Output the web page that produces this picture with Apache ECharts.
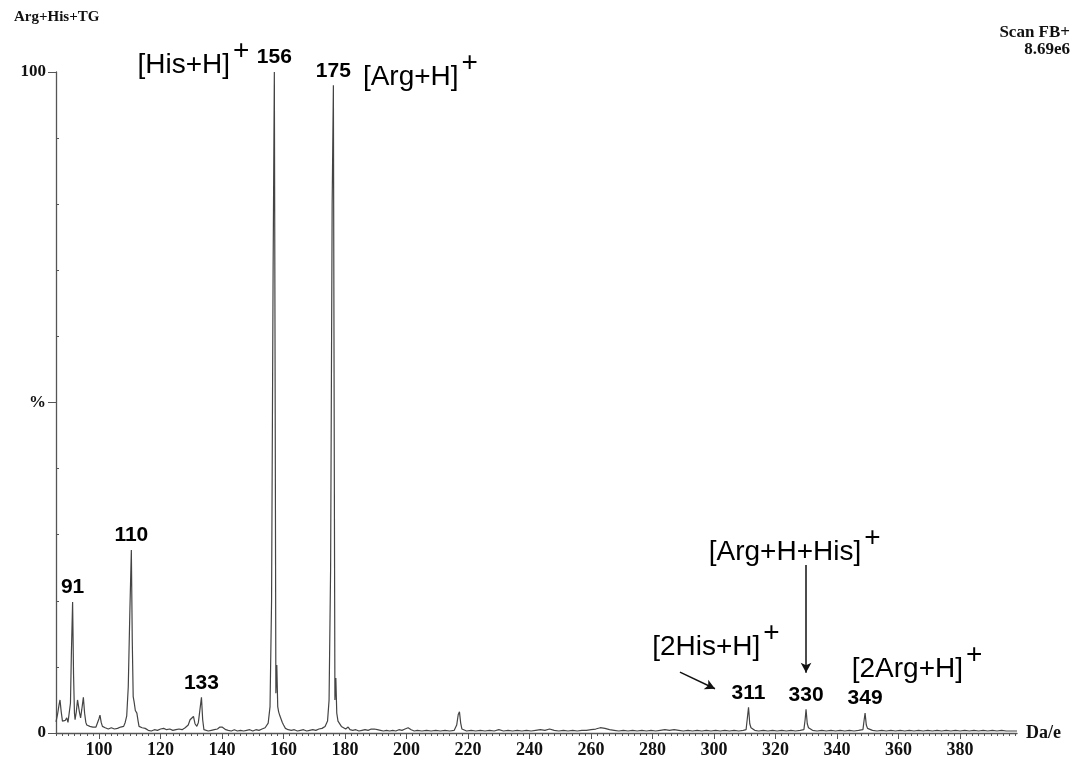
<!DOCTYPE html>
<html><head><meta charset="utf-8">
<script src="https://cdn.jsdelivr.net/npm/echarts@6/dist/echarts.min.js"></script>
<style>html,body{margin:0;padding:0;background:#fff}#c{width:1082px;height:771px}</style>
</head><body><div id="c"></div><script>
// ---- data ----
const xTickValues = [100,120,140,160,180,200,220,240,260,280,300,320,340,360,380];
const xMinorTicks = [86,88,90,92,94,96,98,100,102,104,106,108,110,112,114,116,118,120,122,124,126,128,130,132,134,136,138,140,142,144,146,148,150,152,154,156,158,160,162,164,166,168,170,172,174,176,178,180,182,184,186,188,190,192,194,196,198,200,202,204,206,208,210,212,214,216,218,220,222,224,226,228,230,232,234,236,238,240,242,244,246,248,250,252,254,256,258,260,262,264,266,268,270,272,274,276,278,280,282,284,286,288,290,292,294,296,298,300,302,304,306,308,310,312,314,316,318,320,322,324,326,328,330,332,334,336,338,340,342,344,346,348,350,352,354,356,358,360,362,364,366,368,370,372,374,376,378,380,382,384,386,388,390,392,394,396,398];
const yTickValues = [0,50,100];
const yTickText = ['0','%','100'];
const yMinorTicks = [10,20,30,40,60,70,80,90];

const trace = [
[86.0,1.7],[86.5,2.8],[87.0,4.3],[87.3,5.0],[87.7,3.2],[88.1,1.8],[88.6,1.5],[89.0,1.9],[89.5,2.3],[89.9,1.6],[90.3,1.5],[90.7,4.5],[91.0,12],[91.4,19.8],[91.7,9],[92.0,3.0],[92.2,2.0],[92.6,3.2],[93.0,5.0],[93.3,5.3],[93.6,3.2],[94.0,2.3],[94.4,3.6],[94.9,5.4],[95.3,3.0],[95.7,1.6],[96.0,1.2],[96.5,1.3],[97.0,1.0],[97.5,1.1],[98.0,0.9],[98.5,1.0],[99.0,0.9],[99.5,1.2],[100.0,2.2],[100.3,2.7],[100.7,1.6],[101.1,1.0],[101.6,1.1],[102.0,0.8],[102.5,0.9],[103.0,0.6],[103.5,0.5],[104.0,0.8],[104.5,0.5],[105.0,0.6],[105.5,0.4],[106.0,0.7],[106.5,0.6],[107.0,0.9],[107.5,0.8],[108.0,1.0],[108.5,1.6],[109.0,2.6],[109.5,7],[110.0,18],[110.5,27.7],[110.8,14],[111.1,5.5],[111.4,4.7],[111.8,3.4],[112.3,3.0],[112.7,1.8],[113.0,1.0],[113.5,0.7],[114.0,0.8],[114.5,0.5],[115.0,0.7],[115.5,0.6],[116.0,0.4],[117.0,0.3],[118.0,0.5],[119.0,0.4],[120.0,0.6],[121.0,0.7],[122.0,0.5],[123.0,0.6],[124.0,0.4],[125.0,0.5],[126.0,0.6],[127.0,0.5],[128.0,0.8],[129.0,1.2],[129.6,2.0],[130.2,2.2],[130.7,2.5],[131.2,1.4],[131.8,1.0],[132.3,1.6],[132.8,3.5],[133.3,5.4],[133.7,2.0],[134.1,0.5],[134.6,0.4],[135.5,0.3],[136.5,0.4],[137.5,0.5],[138.5,0.6],[139.3,0.9],[140.0,0.9],[140.6,0.7],[141.2,0.5],[142,0.4],[143,0.3],[144,0.5],[145,0.3],[146,0.4],[147,0.3],[148,0.4],[149,0.5],[150,0.3],[151,0.5],[152,0.4],[153,0.6],[154,0.8],[155,1.5],[155.6,4],[156.1,20],[156.6,70],[157.0,100],[157.3,45],[157.5,6],[157.8,10.3],[158.1,4],[158.4,3.2],[158.8,2.6],[159.2,2.8],[159.6,1.6],[160.0,1.2],[160.6,0.7],[161.5,0.5],[162.5,0.4],[163.5,0.5],[164.5,0.3],[165.5,0.4],[166.5,0.5],[167.5,0.3],[168.5,0.4],[169.5,0.5],[170.5,0.4],[171.5,0.6],[172.5,0.7],[173.5,1.0],[174.3,1.8],[174.8,5],[175.3,25],[175.8,80],[176.2,98],[176.5,40],[176.7,5],[177.0,8.3],[177.3,3],[177.7,1.8],[178.2,1.5],[178.8,1.0],[179.5,0.8],[180.2,0.6],[181.0,0.9],[181.6,0.5],[182.5,0.4],[183.5,0.5],[184.5,0.3],[185.5,0.4],[186.5,0.5],[187.5,0.4],[188.5,0.6],[189.5,0.6],[190.5,0.5],[191.5,0.4],[192.5,0.3],[193.5,0.4],[194.5,0.3],[195.5,0.4],[196.5,0.3],[197.5,0.5],[198.5,0.4],[199.5,0.6],[200.5,0.8],[201.5,0.5],[202.5,0.3],[203.5,0.4],[205,0.3],[206.5,0.4],[208,0.3],[209.5,0.4],[211,0.3],[212.5,0.4],[214,0.3],[215.5,0.4],[216.3,1.2],[216.8,2.8],[217.2,3.2],[217.6,1.5],[218.0,0.6],[218.6,0.4],[219.5,0.3],[221,0.4],[222.5,0.3],[224,0.4],[225.5,0.3],[227,0.4],[228.5,0.3],[230,0.5],[231.5,0.3],[233,0.4],[234.5,0.3],[236,0.4],[237.5,0.3],[239,0.4],[240.5,0.3],[242,0.4],[243.5,0.5],[245,0.4],[246.5,0.6],[248,0.4],[249.5,0.3],[251,0.4],[252.5,0.3],[254,0.4],[255.5,0.3],[257,0.4],[258.5,0.4],[260,0.5],[261.5,0.6],[263,0.8],[264.5,0.7],[266,0.5],[267.5,0.4],[269,0.3],[270.5,0.4],[272,0.3],[273.5,0.4],[275,0.3],[276.5,0.4],[278,0.3],[279.5,0.4],[281,0.3],[282.5,0.4],[284,0.5],[285.5,0.4],[287,0.5],[288.5,0.4],[290,0.3],[291.5,0.4],[293,0.3],[294.5,0.4],[296,0.3],[297.5,0.4],[299,0.3],[300.5,0.4],[302,0.3],[303.5,0.4],[305,0.3],[306.5,0.4],[308,0.3],[309.5,0.4],[310.4,0.5],[310.8,2.2],[311.2,3.9],[311.6,1.4],[312.0,0.8],[312.5,0.6],[313.2,0.4],[314.5,0.3],[316,0.4],[317.5,0.3],[319,0.4],[320.5,0.3],[322,0.4],[323.5,0.3],[325,0.4],[326.5,0.3],[328,0.4],[329.2,0.5],[329.6,2.0],[329.9,3.6],[330.3,1.4],[330.7,0.8],[331.2,0.6],[332,0.4],[333.5,0.3],[335,0.4],[336.5,0.3],[338,0.4],[339.5,0.3],[341,0.4],[342.5,0.3],[344,0.4],[345.5,0.3],[347,0.4],[348.4,0.5],[348.8,2.0],[349.1,3.0],[349.5,1.2],[349.9,0.7],[350.5,0.5],[351.5,0.4],[353,0.3],[354.5,0.4],[356,0.3],[357.5,0.4],[359,0.3],[360.5,0.4],[362,0.3],[363.5,0.4],[365,0.3],[366.5,0.4],[368,0.3],[369.5,0.4],[371,0.3],[372.5,0.4],[374,0.3],[375.5,0.4],[377,0.3],[378.5,0.4],[380,0.3],[381.5,0.4],[383,0.3],[384.5,0.4],[386,0.3],[387.5,0.4],[389,0.3],[390.5,0.4],[392,0.3],[393.5,0.4],[395,0.3],[396.5,0.3],[398.5,0.3]
];

const peakMz   = [91.4, 110.5, 133.3, 157.0, 176.2, 311.2, 329.9, 349.1];
const peakPct  = [19.8, 27.7, 5.4, 100, 98, 3.9, 3.6, 3.0];
const peakText = ['91','110','133','156','175','311','330','349'];

const ionName = ['[His+H]', '[Arg+H]', '[Arg+H+His]', '[2His+H]', '[2Arg+H]'];
const ionMz   = [130.7, 204.5, 326.2, 300.6, 366.0];
const ionPct  = [102.1, 100.3, 28.4, 14.1, 10.7];

const arrowFrom = [[288.9, 9.2], [329.9, 25.4]];
const arrowTo   = [[300.3, 6.7], [329.9, 9.1]];

// ---- chart ----
const chart = echarts.init(document.getElementById('c'), null, {renderer: 'canvas'});
const serif = '"Liberation Serif", "Times New Roman", serif';
const sans = '"Liberation Sans", Arial, sans-serif';
const axisColor = '#555';

const option = {
  animation: false,
  backgroundColor: '#fff',
  grid: {left: 56, right: 65, top: 72, bottom: 38, containLabel: false},
  graphic: [
    {type: 'text', left: 14, top: 10, style: {text: 'Arg+His+TG', font: 'bold 15px ' + serif, fill: '#111'}},
    {type: 'text', right: 12, top: 24, style: {text: 'Scan FB+', font: 'bold 17px ' + serif, fill: '#111'}},
    {type: 'text', right: 12, top: 41, style: {text: '8.69e6', font: 'bold 17px ' + serif, fill: '#111'}}
  ],
  xAxis: [{
    type: 'value', min: 86, max: 398.5,
    name: 'Da/e', nameLocation: 'end', nameGap: 9,
    nameTextStyle: {fontFamily: serif, fontWeight: 'bold', fontSize: 18, color: '#111', verticalAlign: 'middle'},
    axisLine: {show: true, lineStyle: {color: axisColor, width: 1.3}},
    axisTick: {show: true, customValues: xTickValues, length: 6, lineStyle: {color: axisColor}},
    axisLabel: {customValues: xTickValues, fontFamily: serif, fontWeight: 'bold', fontSize: 18, color: '#111', margin: 8},
    splitLine: {show: false}
  }, {
    type: 'value', min: 86, max: 398.5, position: 'bottom',
    axisLine: {show: false},
    axisTick: {show: true, customValues: xMinorTicks, length: 3, lineStyle: {color: axisColor}},
    axisLabel: {show: false},
    splitLine: {show: false}
  }],
  yAxis: [{
    type: 'value', min: 0, max: 100,
    axisLine: {show: true, lineStyle: {color: axisColor, width: 1.3}},
    axisTick: {show: true, customValues: yTickValues, length: 8, lineStyle: {color: axisColor}},
    axisLabel: {customValues: yTickValues, margin: 10,
      formatter: v => yTickText[yTickValues.indexOf(v)],
      fontFamily: serif, fontWeight: 'bold', fontSize: 17, color: '#111'},
    splitLine: {show: false}
  }, {
    type: 'value', min: 0, max: 100, position: 'left',
    axisLine: {show: false},
    axisTick: {show: true, inside: true, customValues: yMinorTicks, length: 3, lineStyle: {color: axisColor}},
    axisLabel: {show: false},
    splitLine: {show: false}
  }],
  series: [
    {
      type: 'line', data: trace, showSymbol: false, symbol: 'none',
      lineStyle: {color: '#444', width: 1.2}, clip: true, z: 2,
      markLine: {
        silent: true, symbol: ['none', 'arrow'], symbolSize: [8, 10],
        lineStyle: {color: '#111', width: 1.5, type: 'solid'},
        label: {show: false},
        data: arrowFrom.map((f, i) => [{coord: f}, {coord: arrowTo[i]}])
      }
    },
    {
      type: 'scatter', symbolSize: 0, clip: false, silent: true, z: 5,
      itemStyle: {opacity: 1},
      data: peakMz.map((m, i) => [m, peakPct[i], peakText[i]]),
      label: {show: true, position: 'top', distance: 4, formatter: p => p.data[2],
        fontFamily: sans, fontWeight: 'bold', fontSize: 21, color: '#000'}
    },
    {
      type: 'scatter', symbolSize: 0, clip: false, silent: true, z: 5,
      itemStyle: {opacity: 1},
      data: ionMz.map((m, i) => [m, ionPct[i], ionName[i]]),
      label: {show: true, position: 'inside',
        formatter: p => '{n|' + p.data[2] + '}{p|+}',
        rich: {
          n: {fontFamily: sans, fontSize: 28, color: '#000', verticalAlign: 'bottom', padding: [14, 0, 0, 0]},
          p: {fontFamily: sans, fontSize: 28, color: '#000', verticalAlign: 'top', padding: [0, 0, 0, 3]}
        }
      }
    }
  ]
};
chart.setOption(option);
</script></body></html>
